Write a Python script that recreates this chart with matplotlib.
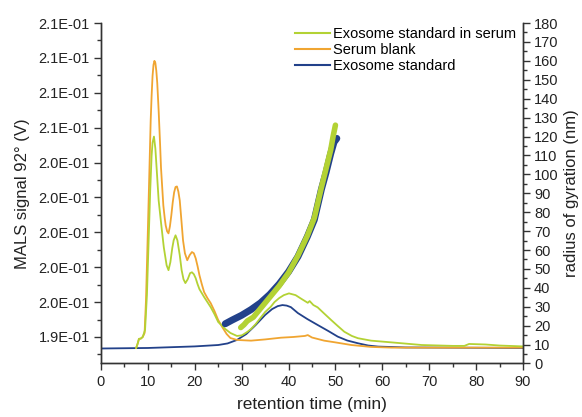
import matplotlib
matplotlib.use("Agg")
import matplotlib.pyplot as plt
from matplotlib.ticker import MultipleLocator, FormatStrFormatter

plt.rcParams['font.family'] = ['Liberation Sans', 'DejaVu Sans']

# MALS signal 92° (V) vs retention time (min)
t_serum_blank = [7.5, 7.8, 8.1, 8.5, 8.9, 9.3, 9.6, 9.8, 10.0, 10.3, 10.6, 10.8, 11.0, 11.2,
                 11.4, 11.6, 11.8, 12.0, 12.3, 12.6, 12.8, 13.1, 13.3, 13.6, 13.8, 14.1,
                 14.4, 14.7, 15.0, 15.3, 15.6, 15.9, 16.2, 16.5, 16.8, 17.1, 17.5, 17.9,
                 18.4, 18.9, 19.4, 19.8, 20.2, 20.6, 21.0, 21.5, 22.0, 22.7, 23.4, 24.2,
                 25.0, 26.0, 26.8, 27.6, 29.0, 32.0, 35.0, 38.4, 41.0, 43.5, 44.1, 45.0,
                 47.6, 50.0, 53.4, 57.6, 62.0, 90.0]
mals_serum_blank = [0.19337, 0.19360, 0.19389, 0.19391, 0.19400, 0.19423, 0.19611, 0.19811,
                    0.20011, 0.20326, 0.20640, 0.20783, 0.20897, 0.20960, 0.20983, 0.20971,
                    0.20926, 0.20857, 0.20697, 0.20509, 0.20371, 0.20240, 0.20154, 0.20080,
                    0.20040, 0.20006, 0.19994, 0.20034, 0.20097, 0.20171, 0.20229, 0.20260,
                    0.20263, 0.20234, 0.20183, 0.20086, 0.19954, 0.19880, 0.19840, 0.19869,
                    0.19887, 0.19880, 0.19851, 0.19806, 0.19754, 0.19703, 0.19657, 0.19623,
                    0.19594, 0.19549, 0.19497, 0.19451, 0.19417, 0.19394, 0.19383, 0.19379,
                    0.19386, 0.19396, 0.19400, 0.19406, 0.19411, 0.19397, 0.19379, 0.19369,
                    0.19354, 0.19343, 0.19339, 0.19339]

t_exo_serum = [7.5, 7.8, 8.1, 8.5, 8.9, 9.4, 9.8, 10.2, 10.5, 10.8, 11.0, 11.3, 11.6, 11.9,
               12.3, 12.8, 13.4, 14.0, 14.4, 14.8, 15.2, 15.5, 15.9, 16.3, 16.8, 17.2, 17.6,
               18.0, 18.5, 19.0, 19.4, 19.8, 20.2, 20.6, 21.0, 22.0, 23.4, 24.2, 25.0, 26.5,
               27.6, 29.0, 30.0, 30.5, 31.2, 32.0, 33.0, 34.0, 35.0, 36.2, 37.0, 38.0, 39.0,
               40.1, 41.5, 42.6, 43.5, 44.1, 44.5, 45.3, 46.2, 47.5, 49.1, 50.5, 51.9, 53.5,
               54.8, 57.6, 62.0, 68.4, 75.0, 77.5, 78.5, 82.0, 85.0, 90.0]
mals_exo_serum = [0.19337, 0.19360, 0.19389, 0.19391, 0.19400, 0.19440, 0.19640, 0.19983,
                  0.20240, 0.20440, 0.20514, 0.20549, 0.20480, 0.20354, 0.20183, 0.20057,
                  0.19914, 0.19811, 0.19783, 0.19829, 0.19909, 0.19954, 0.19983, 0.19954,
                  0.19869, 0.19783, 0.19731, 0.19709, 0.19731, 0.19766, 0.19771, 0.19760,
                  0.19737, 0.19703, 0.19674, 0.19629, 0.19571, 0.19531, 0.19486, 0.19446,
                  0.19423, 0.19406, 0.19409, 0.19417, 0.19429, 0.19446, 0.19474, 0.19509,
                  0.19543, 0.19573, 0.19600, 0.19623, 0.19640, 0.19650, 0.19640, 0.19621,
                  0.19606, 0.19596, 0.19606, 0.19583, 0.19570, 0.19537, 0.19497, 0.19463,
                  0.19430, 0.19406, 0.19393, 0.19379, 0.19369, 0.19354, 0.19349, 0.19349,
                  0.19360, 0.19357, 0.19351, 0.19346]

t_exo_std = [0.0, 10.0, 20.0, 25.0, 27.0, 29.0, 31.0, 33.0, 35.0, 36.5, 37.7, 38.7, 39.6,
             40.5, 42.0, 44.0, 46.2, 48.5, 50.5, 52.5, 54.8, 57.0, 59.1, 65.0, 90.0]
mals_exo_std = [0.19334, 0.19337, 0.19346, 0.19354, 0.19363, 0.19383, 0.19417, 0.19469,
                0.19526, 0.19560, 0.19577, 0.19583, 0.19580, 0.19571, 0.19537, 0.19503,
                0.19469, 0.19434, 0.19402, 0.19380, 0.19364, 0.19351, 0.19345, 0.19340,
                0.19337]

# radius of gyration (nm)
t_rg_exo_std = [26.5, 28.0, 30.0, 32.0, 34.0, 36.0, 38.0, 40.0, 42.0, 44.0, 45.5, 47.0,
                48.0, 49.0, 49.7, 50.3]
rg_exo_std = [21, 23, 25.5, 28.5, 32, 36.5, 42, 48.5, 56.5, 67, 76, 92, 101, 111, 117, 119]

t_rg_exo_serum = [29.8, 30.5, 31.2, 32.5, 34.0, 36.0, 38.0, 40.0, 42.0, 44.0, 45.5,
                  47.0, 48.0, 49.0, 49.5, 50.0]
rg_exo_serum = [19, 20.5, 22.5, 24.5, 29, 35, 41, 48, 57, 67.5, 77, 93, 103, 113, 120, 126]

c_green = '#b3d234'
c_orange = '#f0a531'
c_blue = '#22418a'
c_axis = '#333333'

fig = plt.figure(figsize=(5.82, 4.17), dpi=100)
ax = fig.add_axes([0.1735, 0.1283, 0.7251, 0.8165])
ax2 = ax.twinx()

ax.plot(t_exo_std, mals_exo_std, color=c_blue, lw=1.3)
ax.plot(t_serum_blank, mals_serum_blank, color=c_orange, lw=1.3)
ax.plot(t_exo_serum, mals_exo_serum, color=c_green, lw=1.3)

ax2.plot(t_rg_exo_std, rg_exo_std, color=c_blue, lw=5, solid_capstyle='round')
ax2.plot(t_rg_exo_serum, rg_exo_serum, color=c_green, lw=4, solid_capstyle='round')

ax.set_xlim(0, 90)
ax.set_ylim(0.19248, 0.212)
ax2.set_ylim(0, 180)

ax.xaxis.set_major_locator(MultipleLocator(10))
ax.xaxis.set_minor_locator(MultipleLocator(5))
ax.set_yticks([0.194 + 0.002 * i for i in range(10)])
ax.yaxis.set_minor_locator(MultipleLocator(0.001))
ax.yaxis.set_major_formatter(FormatStrFormatter('%.1E'))
ax2.yaxis.set_major_locator(MultipleLocator(10))
ax2.yaxis.set_minor_locator(MultipleLocator(5))

for a in (ax, ax2):
    a.spines['top'].set_visible(False)
    for s in a.spines.values():
        s.set_color(c_axis)
        s.set_linewidth(1.0)
    a.tick_params(which='major', length=5, width=1.0, color=c_axis, labelsize=10.5,
                  labelcolor='#222222', direction='out', pad=3)
    a.tick_params(which='minor', length=3, width=1.0, color=c_axis, direction='out')

ax.set_xlabel('retention time (min)', fontsize=12.5, color='#222222', labelpad=6)
ax.set_ylabel('MALS signal 92° (V)', fontsize=12, color='#222222', labelpad=6)
ax2.set_ylabel('radius of gyration (nm)', fontsize=12, color='#222222', labelpad=4)

h_green, = ax.plot([], [], color=c_green, lw=1.5)
h_orange, = ax.plot([], [], color=c_orange, lw=1.5)
h_blue, = ax.plot([], [], color=c_blue, lw=1.5)
ax2.legend([h_green, h_orange, h_blue],
           ['Exosome standard in serum', 'Serum blank', 'Exosome standard'],
           loc='upper left', bbox_to_anchor=(0.44, 1.015), frameon=False,
           fontsize=10.5, handlelength=2.4, handletextpad=0.2, labelspacing=0.15,
           borderaxespad=0.2)

fig.savefig('out.png', dpi=100)
